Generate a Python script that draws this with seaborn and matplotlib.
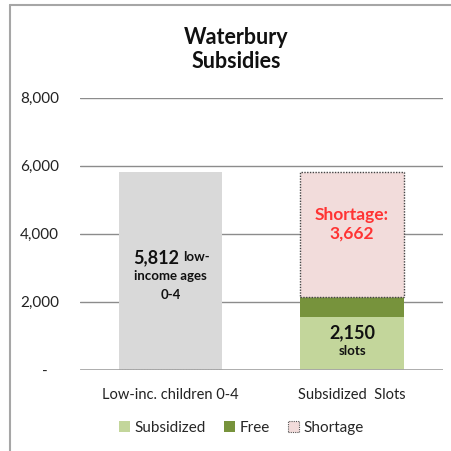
import matplotlib
matplotlib.use("Agg")
import matplotlib.pyplot as plt
from matplotlib.patches import Patch
from matplotlib.lines import Line2D
import seaborn as sns

# chart data
categories = ["Low-inc. children 0-4", "Subsidized  Slots"]
children = [5812, 0]
subsidized = [0, 1560]
free = [0, 590]
shortage = [0, 3662]
yticks = [0, 2000, 4000, 6000, 8000]
ytick_labels = ["-   ", "2,000", "4,000", "6,000", "8,000"]

sns.set_style("white")
plt.rcParams["font.family"] = ["Lato", "DejaVu Sans"]

grey = "#d9d9d9"
light_green = "#c3d69b"
dark_green = "#77933c"
pink = "#f2dcdb"
red = "#ff3333"

fig = plt.figure(figsize=(4.51, 4.51), dpi=100)
ax = fig.add_axes([0.177, 0.18, 0.805, 0.603])

bw = 0.57
under = [s + f for s, f in zip(subsidized, free)]
sns.barplot(x=categories, y=children, order=categories, color=grey, width=bw,
            saturation=1, linewidth=0, ax=ax)
sns.barplot(x=categories, y=subsidized, order=categories, color=light_green,
            width=bw, saturation=1, linewidth=0, ax=ax)
sns.barplot(x=categories, y=free, order=categories, color=dark_green, width=bw,
            saturation=1, linewidth=0, bottom=subsidized, ax=ax)
sns.barplot(x=categories, y=shortage, order=categories, color=pink, width=bw,
            saturation=1, linewidth=1.0, edgecolor="#444444", linestyle=(0, (1, 1)),
            bottom=under, ax=ax)

ax.set_ylim(0, 8000)
ax.set_xlim(-0.5, 1.5)
ax.set_yticks(yticks)
ax.set_yticklabels(ytick_labels, fontsize=11, color="#222222")
ax.tick_params(axis="y", length=0, pad=15)
ax.tick_params(axis="x", length=0, pad=13, labelsize=10.5, colors="#222222")
ax.set_xlabel("")
ax.set_ylabel("")
for s in ax.spines.values():
    s.set_visible(False)
for y in yticks[1:]:
    ax.axhline(y, color="#8c8c8c", lw=1, zorder=0)
ax.axhline(0, color="#a6a6a6", lw=2, zorder=3)

# annotations
ax.annotate("5,812", (0, 4000), xytext=(6, -17), textcoords="offset points",
            ha="right", va="center", fontsize=13, fontweight="bold", color="#111111")
ax.annotate("low-", (0, 4000), xytext=(9, -17), textcoords="offset points",
            ha="left", va="center", fontsize=9.5, fontweight="bold", color="#111111")
ax.annotate("income ages", (0, 4000), xytext=(0, -30), textcoords="offset points",
            ha="center", va="center", fontsize=9.5, fontweight="bold", color="#111111")
ax.annotate("0-4", (0, 4000), xytext=(0, -44), textcoords="offset points",
            ha="center", va="center", fontsize=9.5, fontweight="bold", color="#111111")
ax.annotate("Shortage:\n3,662", (1, 4000), xytext=(0, 7), textcoords="offset points",
            ha="center", va="center", fontsize=12.5, fontweight="bold", color=red,
            linespacing=1.2)
ax.annotate("2,150", (1, 1000), xytext=(0, 2), textcoords="offset points",
            ha="center", va="center", fontsize=13, fontweight="bold", color="#111111")
ax.annotate("slots", (1, 1000), xytext=(0, -11), textcoords="offset points",
            ha="center", va="center", fontsize=9.5, fontweight="bold", color="#111111")

fig.text(0.523, 0.89, "Waterbury\nSubsidies", ha="center", va="center",
         fontsize=15.5, fontweight="bold", linespacing=1.15, color="#111111")

handles = [
    Patch(facecolor=light_green, edgecolor="none", label="Subsidized"),
    Patch(facecolor=dark_green, edgecolor="none", label="Free"),
    Patch(facecolor=pink, edgecolor="#555555", linestyle=(0, (1, 1)), lw=0.8,
          label="Shortage"),
]
fig.legend(handles=handles, loc="center", bbox_to_anchor=(0.535, 0.052), ncol=3,
           frameon=False, fontsize=11, handlelength=0.7, handleheight=0.7,
           handletextpad=0.3, columnspacing=1.2)

# outer frame (top and left)
fig.add_artist(Line2D([0.022, 1], [0.989, 0.989], color="#a6a6a6", lw=1.5))
fig.add_artist(Line2D([0.022, 0.022], [0, 0.989], color="#a6a6a6", lw=1.5))

fig.savefig("out.png", dpi=100)
